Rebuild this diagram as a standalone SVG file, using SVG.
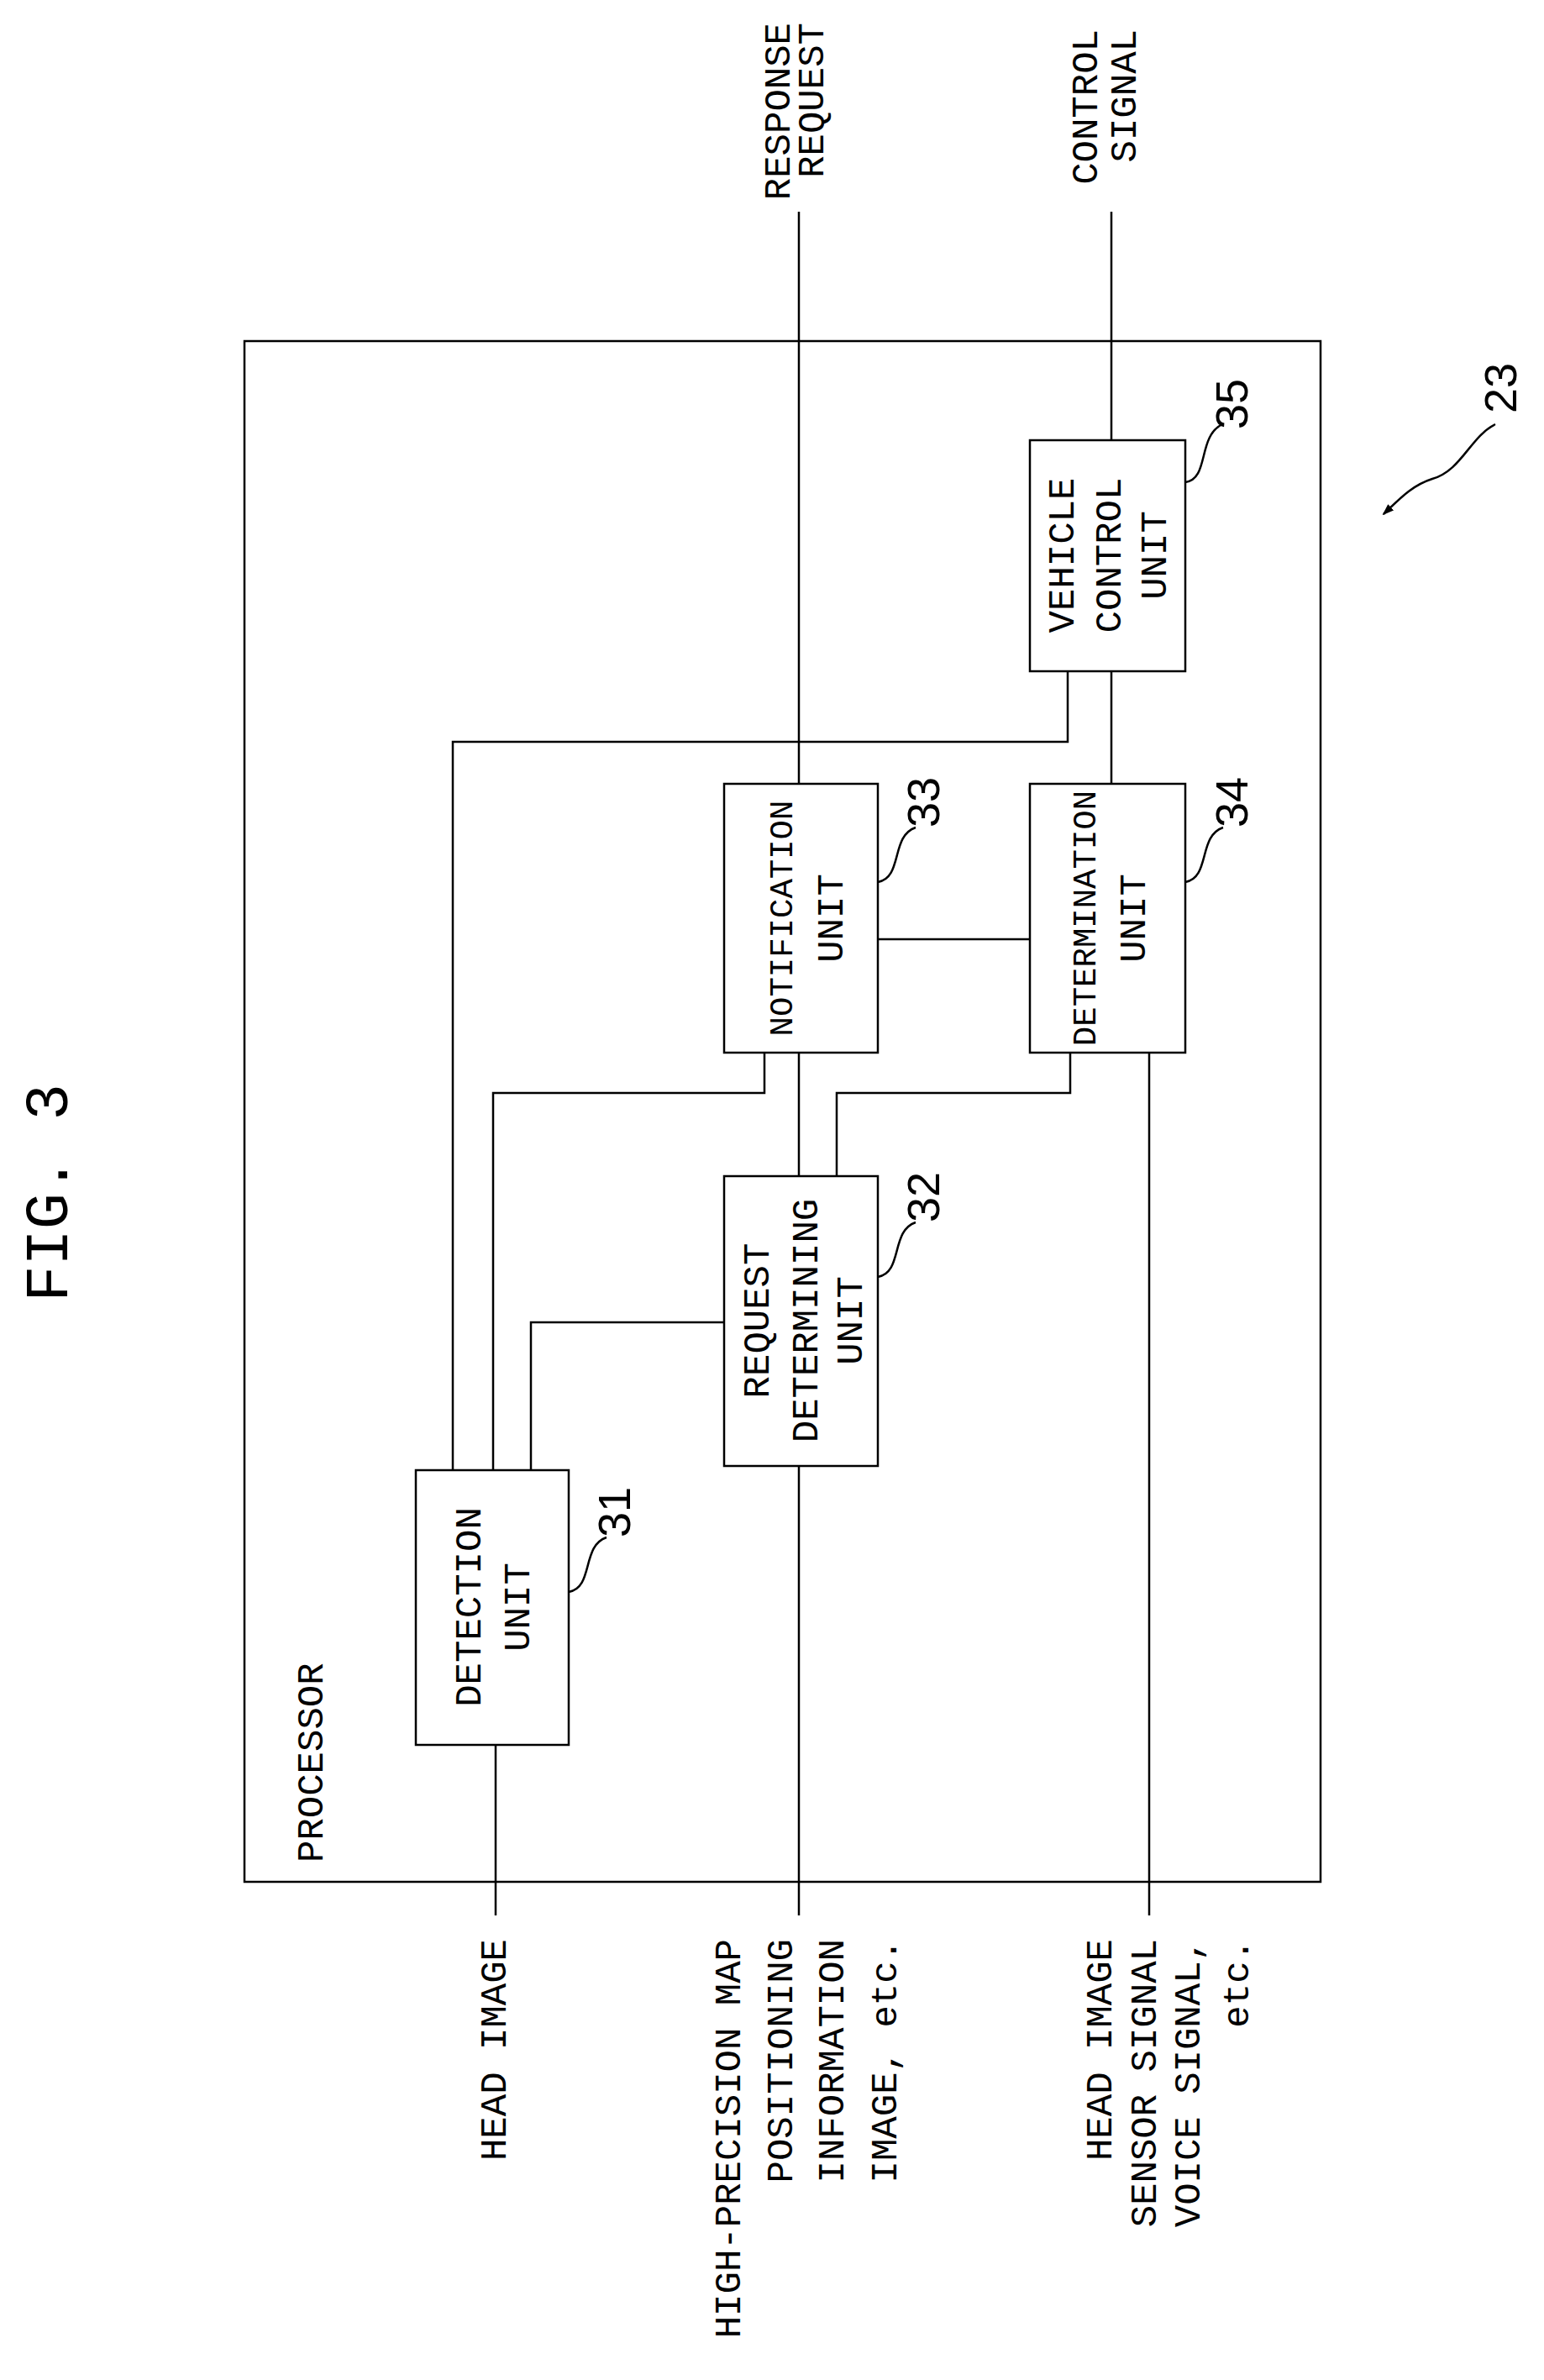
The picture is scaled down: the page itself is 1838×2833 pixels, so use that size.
<svg xmlns="http://www.w3.org/2000/svg" width="1838" height="2833" viewBox="0 0 1838 2833">
<style>
.b{fill:none;stroke:#000;stroke-width:2.5}
.l{fill:none;stroke:#000;stroke-width:2.5}
text{font-family:"Liberation Mono","DejaVu Sans Mono",monospace;font-size:44px;fill:#000}
.n{font-family:"Liberation Sans",Arial,sans-serif;font-size:54px}
.m{text-anchor:middle}
.e{text-anchor:end}
.s{font-size:39px}
</style>
<defs><marker id="ah" markerWidth="14" markerHeight="10" refX="12" refY="5" orient="auto" markerUnits="userSpaceOnUse"><path d="M0,0 L14,5 L0,10 Z" fill="#000"/></marker></defs>
<text transform="translate(80,1420) rotate(-90)" class="m" style="font-size:72px">FIG. 3</text>
<g id="processor">
<rect class="b" x="291" y="406" width="1281" height="1834"/>
<text transform="translate(384,2217) rotate(-90)">PROCESSOR</text>
</g>
<g id="connectors">
<path class="l" d="M951,252 V933 M951,1253 V1400 M951,1745 V2280"/>
<path class="l" d="M1323,252 V524 M1323,799 V933"/>
<path class="l" d="M1045,1118 H1226"/>
<path class="l" d="M1271,799 V883 H539 V1750"/>
<path class="l" d="M910,1253 V1301 H587 V1750"/>
<path class="l" d="M1274,1253 V1301 H996 V1400"/>
<path class="l" d="M862,1574 H632 V1750"/>
<path class="l" d="M1368,1253 V2280"/>
<path class="l" d="M590,2077 V2280"/>
</g>
<g id="vehicle"><rect class="b" x="1226" y="524" width="185" height="275"/>
<text transform="translate(1278,661) rotate(-90)" class="m">VEHICLE</text>
<text transform="translate(1334,661) rotate(-90)" class="m">CONTROL</text>
<text transform="translate(1388,661) rotate(-90)" class="m">UNIT</text>
<path class="l" d="M1411,574 C1440,570 1425,520 1455,505"/><text transform="translate(1485,481) rotate(-90)" class="n m">35</text></g>
<g id="notification"><rect class="b" x="862" y="933" width="183" height="320"/>
<text transform="translate(943,1093) rotate(-90)" class="m s">NOTIFICATION</text>
<text transform="translate(1003,1093) rotate(-90)" class="m">UNIT</text>
<path class="l" d="M1045,1050 C1075,1045 1060,995 1090,985"/><text transform="translate(1118,955) rotate(-90)" class="n m">33</text></g>
<g id="determination"><rect class="b" x="1226" y="933" width="185" height="320"/>
<text transform="translate(1304,1093) rotate(-90)" class="m s">DETERMINATION</text>
<text transform="translate(1363,1093) rotate(-90)" class="m">UNIT</text>
<path class="l" d="M1411,1050 C1441,1045 1426,995 1456,985"/><text transform="translate(1485,955) rotate(-90)" class="n m">34</text></g>
<g id="request"><rect class="b" x="862" y="1400" width="183" height="345"/>
<text transform="translate(915,1572) rotate(-90)" class="m">REQUEST</text>
<text transform="translate(973,1572) rotate(-90)" class="m">DETERMINING</text>
<text transform="translate(1026,1572) rotate(-90)" class="m">UNIT</text>
<path class="l" d="M1045,1520 C1075,1515 1060,1465 1090,1455"/><text transform="translate(1118,1425) rotate(-90)" class="n m">32</text></g>
<g id="detection"><rect class="b" x="495" y="1750" width="182" height="327"/>
<text transform="translate(572,1913) rotate(-90)" class="m">DETECTION</text>
<text transform="translate(630,1913) rotate(-90)" class="m">UNIT</text>
<path class="l" d="M677,1895 C707,1890 692,1840 722,1830"/><text transform="translate(750,1800) rotate(-90)" class="n m">31</text></g>
<g id="ref23"><text transform="translate(1805,462) rotate(-90)" class="n m">23</text>
<path class="l" marker-end="url(#ah)" d="M1780,505 C1750,520 1740,560 1705,570 C1680,578 1665,595 1647,612"/></g>
<g id="labels">
<text transform="translate(940,27) rotate(-90)" class="e">RESPONSE</text>
<text transform="translate(980,27) rotate(-90)" class="e">REQUEST</text>
<text transform="translate(1306,35) rotate(-90)" class="e">CONTROL</text>
<text transform="translate(1352,35) rotate(-90)" class="e">SIGNAL</text>
<text transform="translate(602,2308) rotate(-90)" class="e">HEAD IMAGE</text>
<text transform="translate(881,2308) rotate(-90)" class="e">HIGH-PRECISION MAP</text>
<text transform="translate(943,2308) rotate(-90)" class="e">POSITIONING</text>
<text transform="translate(1004,2308) rotate(-90)" class="e">INFORMATION</text>
<text transform="translate(1067,2308) rotate(-90)" class="e">IMAGE, etc.</text>
<text transform="translate(1323,2308) rotate(-90)" class="e">HEAD IMAGE</text>
<text transform="translate(1376,2308) rotate(-90)" class="e">SENSOR SIGNAL</text>
<text transform="translate(1428,2308) rotate(-90)" class="e">VOICE SIGNAL,</text>
<text transform="translate(1486,2308) rotate(-90)" class="e">etc.</text>
</g>
</svg>
